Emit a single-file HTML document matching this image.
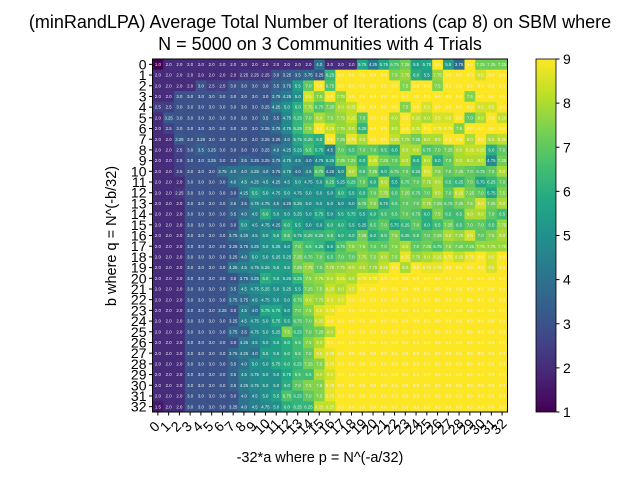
<!DOCTYPE html>
<html><head><meta charset="utf-8"><style>
body{margin:0;background:#fff;}
svg{display:block;font-family:"Liberation Sans","DejaVu Sans",sans-serif;}
</style></head><body>
<svg id="chart" width="640" height="480" viewBox="0 0 640 480" xmlns="http://www.w3.org/2000/svg">
<text x="320" y="28" font-size="18" text-anchor="middle">(minRandLPA) Average Total Number of Iterations (cap 8) on SBM where</text>
<text x="320" y="50" font-size="18" text-anchor="middle">N = 5000 on 3 Communities with 4 Trials</text>
<g id="cells"></g>
<g id="ticks"></g>
<rect x="152.5" y="59" width="355" height="353" fill="none" stroke="#000" stroke-width="1"/>
<text x="320" y="462" font-size="14.5" text-anchor="middle">-32*a where p = N^(-a/32)</text>
<text transform="translate(116,236) rotate(-90)" font-size="14.5" text-anchor="middle">b where q = N^(-b/32)</text>
<defs><linearGradient id="cbg" x1="0" y1="1" x2="0" y2="0"></linearGradient></defs>
<rect x="536" y="59" width="20" height="353" fill="url(#cbg)" stroke="#000" stroke-width="0.8"/>
<g id="cbticks"></g>
</svg>
<script>
const xCategories = Array.from({length:33},(_,i)=>String(i));
const yCategories = Array.from({length:33},(_,i)=>String(i));
const colorbarTicks = [1,2,3,4,5,6,7,8,9];
const row0 = [1,2,2,2,2,2,2,2,2,2,2, 2,2,2,2,4,2,2,2,5.75,4.25,5.75, 6.75,7.25,5.5,5.75,9,5.5,3.75,9,7.25,7.25,7.25];
const row1 = [2,2,2,2,2,2,2,2,2.25,2.25,2.25, 3,3.25,3.5,3.75,3.25,6.25,9,9,9,9,9, 7.5,7.75,6,5.5,7.75,9,9,9,8.5,9,9];
const row2 = [2,2,2,2,3,2.5,2.5,3,3,3,3, 3.5,3.75,5.5,7,9,6.75,9,9,9,9,9, 9,7.5,9,9,7.5,9,9,9,9,9,9];
const row3 = [2,2,3,3,3,3,3,3,3,3,3, 3.75,4.25,5,8.5,7.5,9,7.75,9,9,9,9, 9,9,9,9,9,9,9,7.5,9,9,9];
const row4 = [2.5,2.5,3,3,3,3,3,3,3,3,3.25, 4.25,5,6,7.75,6.75,7.25,8,8.25,9,9,9, 9,7.5,9,8.5,9,9,9,9,8.5,8.5,9];
const row5 = [2,3.25,3,3,3,3,3,3,3,3,3.5, 3.5,4.75,6.25,7,8,7.5,7.75,8.25,7,9,9, 8,9,8.25,8,8.5,8.5,9,7,8,9,8.25];
const row6 = [2,2.5,3,3,3,3,3,3,3,3,3.25, 3.75,4.75,6.25,7.5,9,8.25,7.75,8,6.25,9,9, 8,9,8.25,9,8.75,8.75,7.5,9,9,9,9];
const row7 = [2,2,3.25,3,3.25,3,3,3,3,3,3.25, 3.25,4,5.75,6.25,6,9,7.25,8.75,8,9,9, 8.25,7.75,7.25,8,8,9,9,8,9,8,8.25];
const row8 = [2,2,2.5,3,3.5,3.25,3,3,3,3,3.25, 4,4.25,5.25,6.5,5.75,4.5,7,6.5,7,7,6.5, 6,8,8,6.75,7,7.25,8,8.25,8.25,6,7];
const row9 = [2,2,2.5,3,3,3.25,3,3,3.5,3.25,3.25, 3.75,4.75,4.5,4,4.75,5.25,7.25,7.25,6,8.25,7.25, 7,8,6,8,6,7,8,8,8,4.75,7.25];
const row10 = [2,2,2.5,3,3,3,3.75,4,4,4.25,4, 3.75,4.75,4,4.5,6.75,4.25,5,8,6.5,7.25,6, 6.75,7,6.25,8.5,7.5,7,7.25,7,6.75,7,8];
const row11 = [2,2,2,3,3,3,3,4,4.5,4.25,4.5, 4.25,4.5,5,4.75,5,6.25,5.25,6.25,7,6,8, 5.5,6.75,7,7.75,8,6.5,6.25,7,5.75,6.25,7];
const row12 = [2,2,2.25,3,3,3,3,3,4.25,5.5,5, 4.75,5,4.75,5,5,5,6,5.5,6,7,7.75, 6.5,7.25,6.75,7,8,7,8.25,7.25,7,5.75,7.5];
const row13 = [2,2,2,3,3,3,3,3.5,3.5,4.75,4.75, 4.5,4.25,5.25,5,5,5,5,5,6.75,7.5,5.75, 6.5,7,7,7.75,7.25,6.75,7.25,7.5,8.5,7.25,8];
const row14 = [2,2,2,3,3,3,3,3.5,4,4.5,6, 5,5,5.25,5,5.75,5,5.5,5.75,5.5,6,6.5, 6.5,7,6.75,6,7.5,6.5,6.5,8,8,7,6.5];
const row15 = [2,2,2,3,3,3,3,3,5,4.5,4.75, 4.25,6,5.5,5,5,6,6,5.5,5.25,6.5,7, 5.75,6.25,7,6,6.5,7.25,6.5,7,7,6.5,7.75];
const row16 = [2,2,2,3,3,3,3,3.75,4.25,4.5,5, 5.5,6.5,5.75,6.25,6.25,6.5,6,6,7.25,6,6.5, 7.5,6.25,6.5,7,7.25,8,7.75,8.5,7,7.5,8];
const row17 = [2,2,2,3,3,3,3,3.25,3.75,4.25,5, 5.25,5,7,6.5,6.25,5.5,6.75,7.5,7.5,7,7, 7.5,8,7,7.25,6.75,7.5,7.25,7.25,7.75,7.75,7.75];
const row18 = [2,2,2,3,3,3,3,3.25,4,5,5, 5.25,5.25,7.25,6.75,7,6.5,7,7,7.75,7.5,8, 7.5,8.75,7.75,8,8.25,8.75,8.25,8.75,9,8.5,9];
const row19 = [2,2,2,3,3,3,3,4.25,4.5,4.75,5.25, 5.5,5.5,7.25,7.75,7,7.75,7.75,8,8,7.75,8.25, 9,8,9,8.75,8.75,9,9,9,9,8.5,9];
const row20 = [2,2,2,3,3,3,3,3,3.75,4.25,6, 5.5,5.25,6.25,7.5,7.75,8,8.25,8,8.75,8.75,9, 9,9,9,9,9,9,9,9,9,9,9];
const row21 = [2,2,2,3,3,3,3,3.5,4.5,4.75,5.25, 5,5.25,5.5,7.25,7.5,8.25,8,8.5,9,9,9, 9,9,9,9,9,9,9,9,9,9,9];
const row22 = [2,2,2,3,3,3,3,3.75,3.75,4.5,4.75, 5,5,6.75,8,7.75,8.5,8.5,9,9,9,9, 9,9,9,9,9,9,9,9,9,9,9];
const row23 = [2,2,2,3,3,3,3.25,3,4.5,4,5.75, 5.75,5,7,7.5,8.5,8.75,9,9,9,9,9, 9,9,9,9,9,9,9,9,9,9,9];
const row24 = [2,2,2,3,3,3,3,3.25,4.5,4.75,5, 5.75,5.5,6.75,7,8.25,9,9,9,9,9,9, 9,9,9,9,9,9,9,9,9,9,9];
const row25 = [2,2,2,3,3,3,3,3.75,3.5,4.75,5, 5.25,7.5,6.25,7,7.25,8,9,9,9,9,9, 9,9,9,9,9,9,9,9,9,9,9];
const row26 = [2,2,2,3,3,3,3,3,4.25,4.5,5, 5.5,6,6.5,7.5,8,9,9,9,9,9,9, 9,9,9,9,9,9,9,9,9,9,9];
const row27 = [2,2,2,3,3,3,3,3.75,4.25,4,5.5, 5.5,6,6.5,7,8.5,8.75,9,9,9,9,9, 9,9,9,9,9,9,9,9,9,9,9];
const row28 = [2,2,2,3,3,3,3,3.5,4,5,5, 5.75,6,6.25,7.25,7.5,8.75,9,9,9,9,9, 9,9,9,9,9,9,9,9,9,9,9];
const row29 = [2,2,2,3,3,3,3,3.5,4.5,4.75,5, 5,5.75,6.5,6.5,8,8.5,9,9,9,9,9, 9,9,9,9,9,9,9,9,9,9,9];
const row30 = [2,2,2,3,3,3,3,3.5,4.25,4.75,5, 5,6,7,7.5,7.5,8.75,9,9,9,9,9, 9,9,9,9,9,9,9,9,9,9,9];
const row31 = [2,2,2,3,3,3,3,3,4,4.5,5, 5.5,6.75,6.25,7,7.5,8.75,9,9,9,9,9, 9,9,9,9,9,9,9,9,9,9,9];
const row32 = [1.5,2,2,3,3,3,3,3.25,4,4.5,4.75, 5,6,6.25,6.25,8.25,8.25,9,9,9,9,9, 9,9,9,9,9,9,9,9,9,9,9];
const values = [row0,row1,row2,row3,row4,row5,row6,row7,row8,row9,row10,row11,row12,row13,row14,row15,row16,row17,row18,row19,row20,row21,row22,row23,row24,row25,row26,row27,row28,row29,row30,row31,row32];

const NS="http://www.w3.org/2000/svg";
const X0=152.5,X1=507.5,Y0=59,Y1=412,VMIN=1,VMAX=9;
const cw=(X1-X0)/xCategories.length, ch=(Y1-Y0)/yCategories.length;
function xScale(i){return X0+i*cw;}
function yScale(j){return Y0+j*ch;}
const vir=[[68,1,84],[72,36,117],[65,68,135],[53,95,141],[42,120,142],[33,145,140],[34,168,132],[68,191,112],[122,209,81],[189,223,38],[253,231,37]];
function cmap(v){let t=(v-VMIN)/(VMAX-VMIN);t=Math.max(0,Math.min(1,t));const p=t*(vir.length-1);const i=Math.min(vir.length-2,Math.floor(p));const f=p-i;const c=vir[i].map((a,k)=>Math.round(a+(vir[i+1][k]-a)*f));return `rgb(${c[0]},${c[1]},${c[2]})`;}
function fmt(v){let s=String(v);if(s.indexOf('.')<0)s+='.0';return s;}
const cells=document.getElementById('cells');
values.forEach((row,j)=>row.forEach((v,i)=>{
  const r=document.createElementNS(NS,'rect');
  
  
  r.setAttribute('x',xScale(i));r.setAttribute('y',yScale(j));
  r.setAttribute('width',cw+0.3);r.setAttribute('height',ch+0.3);
  r.setAttribute('fill',cmap(v));cells.appendChild(r);
  const t=document.createElementNS(NS,'text');
  
  
  t.setAttribute('x',xScale(i)+cw/2);t.setAttribute('y',yScale(j)+ch/2+1.6);
  t.setAttribute('font-size','4.3');t.setAttribute('text-anchor','middle');
  t.setAttribute('fill','#f0f0f0');t.textContent=fmt(v);cells.appendChild(t);
}));
const ticks=document.getElementById('ticks');
xCategories.forEach((c,i)=>{
  const x=xScale(i)+cw/2;
  const l=document.createElementNS(NS,'line');
  
  
  l.setAttribute('x1',x);l.setAttribute('x2',x);l.setAttribute('y1',Y1);l.setAttribute('y2',Y1+3.5);l.setAttribute('stroke','#000');ticks.appendChild(l);
  const t=document.createElementNS(NS,'text');
  
  
  t.setAttribute('transform',`translate(${x},${Y1+18}) rotate(-45)`);
  t.setAttribute('font-size','14');t.setAttribute('text-anchor','middle');t.textContent=c;ticks.appendChild(t);
});
yCategories.forEach((c,j)=>{
  const y=yScale(j)+ch/2;
  const l=document.createElementNS(NS,'line');
  
  
  l.setAttribute('x1',X0-3.5);l.setAttribute('x2',X0);l.setAttribute('y1',y);l.setAttribute('y2',y);l.setAttribute('stroke','#000');ticks.appendChild(l);
  const t=document.createElementNS(NS,'text');
  
  
  t.setAttribute('x',X0-6);t.setAttribute('y',y+5);
  t.setAttribute('font-size','14');t.setAttribute('text-anchor','end');t.textContent=c;ticks.appendChild(t);
});
const grad=document.getElementById('cbg');
for(let k=0;k<=20;k++){const s=document.createElementNS(NS,'stop');s.setAttribute('offset',k/20);s.setAttribute('stop-color',cmap(VMIN+(VMAX-VMIN)*k/20));grad.appendChild(s);}
const cbt=document.getElementById('cbticks');
colorbarTicks.forEach(v=>{
  const y=Y1-(v-VMIN)/(VMAX-VMIN)*(Y1-Y0);
  const l=document.createElementNS(NS,'line');
  
  
  l.setAttribute('x1',556);l.setAttribute('x2',559.5);l.setAttribute('y1',y);l.setAttribute('y2',y);l.setAttribute('stroke','#000');cbt.appendChild(l);
  const t=document.createElementNS(NS,'text');
  
  
  t.setAttribute('x',563);t.setAttribute('y',y+5);t.setAttribute('font-size','14');t.textContent=v;cbt.appendChild(t);
});
</script>
</body></html>
